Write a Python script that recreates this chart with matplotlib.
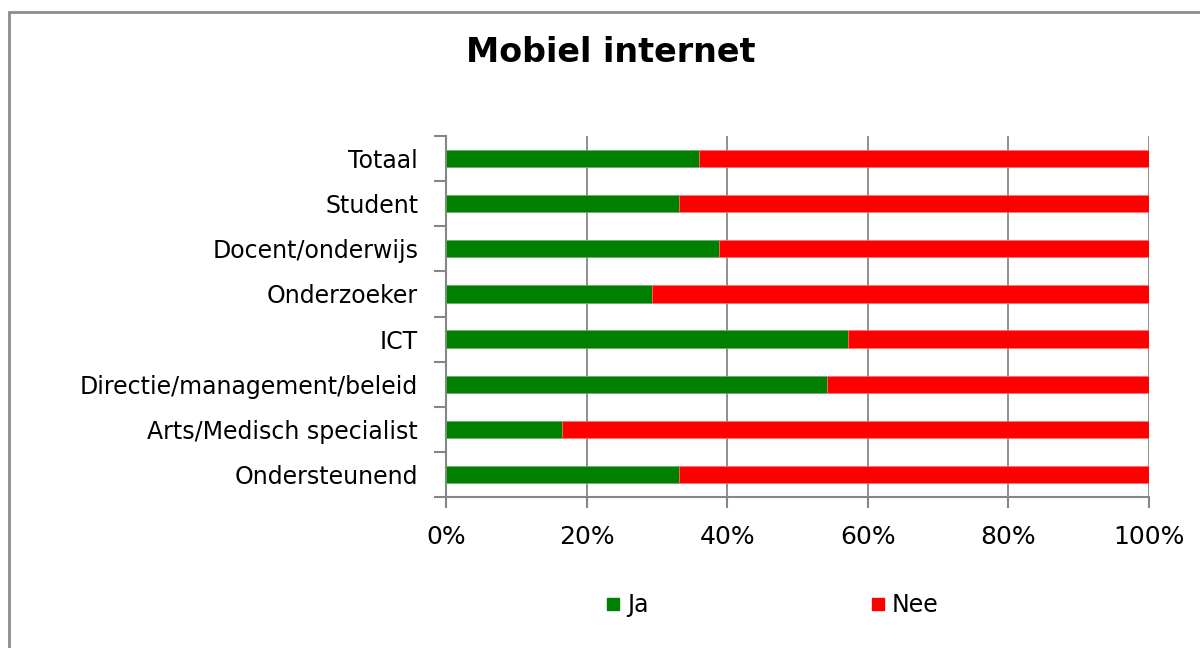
import matplotlib
matplotlib.use("Agg")
import matplotlib.pyplot as plt
from matplotlib.patches import Rectangle
from matplotlib.lines import Line2D
from matplotlib.ticker import FixedLocator, PercentFormatter

categories = ["Totaal", "Student", "Docent/onderwijs", "Onderzoeker", "ICT",
              "Directie/management/beleid", "Arts/Medisch specialist", "Ondersteunend"]
ja = [36.0, 33.2, 38.8, 29.3, 57.2, 54.2, 16.5, 33.2]
nee = [100 - v for v in ja]
series_names = ["Ja", "Nee"]
colors = ["#008000", "#FF0000"]
xticks = [0, 20, 40, 60, 80, 100]

plt.rcParams['font.family'] = ['DejaVu Sans']
fig = plt.figure(figsize=(12, 6.48), dpi=100)
W, H = 1200, 648
ax = fig.add_axes([446 / W, 1 - 497 / H, (1149 - 446) / W, (497 - 136) / H])

n = len(categories)
ypos = list(range(n))[::-1]
ax.barh(ypos, ja, height=0.385, color=colors[0], edgecolor="#6aa86a", linewidth=0.5, zorder=3)
ax.barh(ypos, nee, left=ja, height=0.385, color=colors[1], edgecolor="#ff7070", linewidth=0.5, zorder=3)

ax.set_xlim(0, 100)
ax.set_ylim(-0.5, n - 0.5)
ax.set_xticks(xticks)
ax.xaxis.set_major_formatter(PercentFormatter(decimals=0))
ax.set_yticks(ypos)
ax.set_yticklabels(categories)
ax.yaxis.set_minor_locator(FixedLocator([i - 0.5 for i in range(n + 1)]))
ax.tick_params(axis='y', which='major', length=0, pad=20, labelsize=17)
ax.tick_params(axis='y', which='minor', length=9, color="#868686", width=1.5)
ax.tick_params(axis='x', length=8, color="#868686", width=1.5, labelsize=18, pad=12)
ax.grid(axis='x', color="#868686", linewidth=1.3, zorder=0)
for s in ["top", "right"]:
    ax.spines[s].set_visible(False)
for s in ["left", "bottom"]:
    ax.spines[s].set_color("#868686")
    ax.spines[s].set_linewidth(1.5)

fig.text(611 / W, 1 - 53 / H, "Mobiel internet", ha="center", va="center",
         fontsize=24, fontweight="bold")

handles = [Line2D([], [], marker='s', linestyle='None', markersize=8.5,
                  markerfacecolor=c, markeredgecolor=c) for c in colors]
fig.legend(handles, series_names, loc="center", bbox_to_anchor=(771 / W, 1 - 605 / H),
           ncol=2, frameon=False, fontsize=17, handletextpad=0.2,
           columnspacing=9.3, handlelength=0.8)

fig.patches.append(Rectangle((9 / W, -0.1), 1.2, 1 - 12 / H + 0.1, transform=fig.transFigure,
                             fill=False, edgecolor="#8c8c8c", linewidth=2))

fig.savefig("out.png", dpi=100)
